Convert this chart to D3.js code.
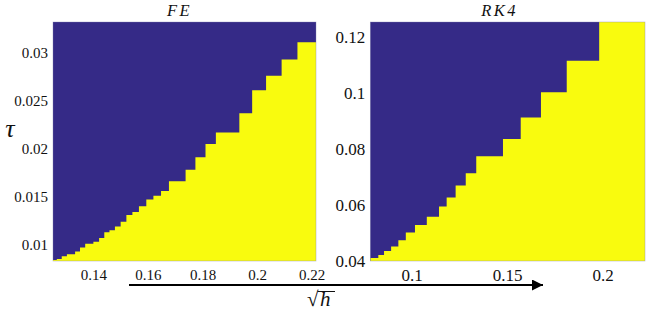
<!DOCTYPE html>
<html>
<head>
<meta charset="utf-8">
<script src="https://cdn.jsdelivr.net/npm/d3@7"></script>
<style>
  html, body { margin: 0; padding: 0; background: #fff; }
  svg text { font-family: "Liberation Serif", "Times New Roman", "DejaVu Serif", serif; fill: #111; }
</style>
</head>
<body>
<svg id="chart" width="649" height="318"></svg>
<script>
// ---- Data ----
// FE panel: step boundaries in sqrt(h) and the stability threshold tau of each step
const feSqrtH = [0.1252, 0.1266, 0.1284, 0.1303, 0.1333, 0.1351, 0.1370, 0.1400, 0.1421, 0.1440,
                 0.1459, 0.1479, 0.1500, 0.1521, 0.1543, 0.1567, 0.1594, 0.1620, 0.1648, 0.1677,
                 0.1738, 0.1774, 0.1811, 0.1849, 0.1935, 0.1982, 0.2033, 0.2090, 0.2148, 0.2216];
const feTau =   [0.0084, 0.0085, 0.0088, 0.0090, 0.0093, 0.0097, 0.0101, 0.0103, 0.0107, 0.0113,
                 0.0115, 0.0119, 0.0124, 0.0131, 0.0134, 0.0140, 0.0147, 0.0151, 0.0156, 0.0166,
                 0.0178, 0.0191, 0.0205, 0.0217, 0.0237, 0.0261, 0.0276, 0.0293, 0.0311];
// RK4 panel
const rkSqrtH = [0.0783, 0.0825, 0.0855, 0.0892, 0.0930, 0.0969, 0.1017, 0.1079, 0.1143, 0.1183,
                 0.1230, 0.1283, 0.1338, 0.1478, 0.1571, 0.1677, 0.1812, 0.1982, 0.2222];
const rkTau =   [0.0411, 0.0421, 0.0436, 0.0452, 0.0474, 0.0502, 0.0528, 0.0558, 0.0594, 0.0626,
                 0.0669, 0.0713, 0.0773, 0.0835, 0.0912, 0.1002, 0.1114, 0.1252];

const feXTicks = [0.14, 0.16, 0.18, 0.2, 0.22];
const feYTicks = [0.01, 0.015, 0.02, 0.025, 0.03];
const rkXTicks = [0.1, 0.15, 0.2];
const rkYTicks = [0.04, 0.06, 0.08, 0.1, 0.12];
const titles = ["FE", "RK4"];

const BLUE = "#352a87", YELLOW = "#f9fb0e";
const SERIF = "Liberation Serif, Times New Roman, serif";

const svg = d3.select("#chart");

function panel(cfg) {
  const x = d3.scaleLinear().domain(cfg.xDomain).range([cfg.left, cfg.right]);
  const y = d3.scaleLinear().domain(cfg.yDomain).range([cfg.bottom, cfg.top]);
  const g = svg.append("g");
  g.append("rect")
    .attr("x", cfg.left).attr("y", cfg.top)
    .attr("width", cfg.right - cfg.left).attr("height", cfg.bottom - cfg.top)
    .attr("fill", BLUE);
  // stable region as a single step area (no seams)
  const pts = cfg.xs.map((s, i) => ({s, t: cfg.tau[Math.min(i, cfg.tau.length - 1)]}));
  const area = d3.area()
    .x(d => x(d.s)).y0(cfg.bottom).y1(d => y(d.t))
    .curve(d3.curveStepAfter);
  g.append("path").datum(pts).attr("d", area).attr("fill", YELLOW);
  // faint frame
  g.append("rect")
    .attr("x", cfg.left).attr("y", cfg.top)
    .attr("width", cfg.right - cfg.left).attr("height", cfg.bottom - cfg.top)
    .attr("fill", "none").attr("stroke", "#8080b0").attr("stroke-width", 0.6).attr("stroke-opacity", 0.6);

  const fmt = d => String(d);
  const ax = g.append("g").attr("transform", `translate(0,${cfg.bottom})`)
    .call(d3.axisBottom(x).tickValues(cfg.xTicks).tickFormat(fmt).tickSize(0).tickPadding(cfg.xPad));
  const ay = g.append("g").attr("transform", `translate(${cfg.left},0)`)
    .call(d3.axisLeft(y).tickValues(cfg.yTicks).tickFormat(fmt).tickSize(0).tickPadding(5));
  [ax, ay].forEach(a => {
    a.attr("font-family", SERIF);
    a.select(".domain").remove();
    a.selectAll("text").attr("font-family", SERIF)
      .attr("font-size", cfg.fs).attr("fill", "#111");
  });
  g.append("text")
    .attr("x", (cfg.left + cfg.right) / 2 + cfg.titleDx).attr("y", 15.5)
    .attr("text-anchor", "middle").attr("font-style", "italic").attr("font-family", SERIF)
    .attr("font-size", 16.5).attr("letter-spacing", 2.5).text(cfg.title);
}

panel({xs: feSqrtH, tau: feTau, xDomain: [0.1252, 0.2216], yDomain: [0.0083, 0.0332],
       left: 53, right: 316, top: 22, bottom: 261, xTicks: feXTicks, yTicks: feYTicks,
       fs: 15, xPad: 8.5, title: titles[0], titleDx: -5});
panel({xs: rkSqrtH, tau: rkTau, xDomain: [0.0783, 0.2222], yDomain: [0.04, 0.1252],
       left: 370.3, right: 645, top: 22, bottom: 261, xTicks: rkXTicks, yTicks: rkYTicks,
       fs: 17, xPad: 7.5, title: titles[1], titleDx: -8});

// tau label
svg.append("text").attr("x", 10).attr("y", 137).attr("text-anchor", "middle")
  .attr("font-style", "italic").attr("font-family", SERIF).attr("font-size", 26).text("τ");

// arrow
svg.append("defs").append("marker")
  .attr("id", "ah").attr("viewBox", "0 0 10 10").attr("refX", 10).attr("refY", 5)
  .attr("markerWidth", 6.5).attr("markerHeight", 5.5).attr("markerUnits", "strokeWidth")
  .attr("orient", "auto")
  .append("path").attr("d", "M0,0 L10,5 L0,10 z").attr("fill", "#000");
svg.append("line").attr("x1", 129).attr("y1", 285).attr("x2", 543).attr("y2", 285)
  .attr("stroke", "#000").attr("stroke-width", 2).attr("marker-end", "url(#ah)");

// sqrt(h) label
svg.append("text").attr("x", 307).attr("y", 306).attr("font-family", SERIF).attr("font-size", 21).text("√");
svg.append("text").attr("x", 320).attr("y", 306).attr("font-style", "italic").attr("font-family", SERIF)
  .attr("font-size", 21).text("h");
svg.append("line").attr("x1", 317.5).attr("x2", 335).attr("y1", 291.5).attr("y2", 291.5)
  .attr("stroke", "#111").attr("stroke-width", 1);
</script>
</body>
</html>
